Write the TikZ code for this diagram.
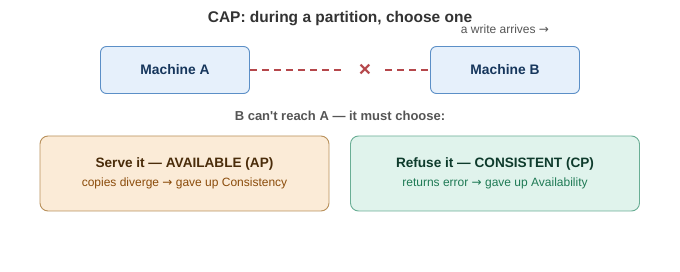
\documentclass[tikz,border=0pt]{standalone}
\usepackage{fontspec}
\setmainfont{Liberation Sans}
\newfontfamily\arrowfont{DejaVu Sans}
\newcommand{\rarr}{{\arrowfont\mdseries →}}
\usepackage{xcolor}
\usetikzlibrary{positioning}
\definecolor{machfill}{HTML}{E6F0FB}
\definecolor{machline}{HTML}{5B8FC7}
\definecolor{machtext}{HTML}{16365C}
\definecolor{apfill}{HTML}{FBEBD7}
\definecolor{apline}{HTML}{B8905A}
\definecolor{aptext}{HTML}{4A2C0A}
\definecolor{apsub}{HTML}{8A4B0A}
\definecolor{cpfill}{HTML}{E0F3EC}
\definecolor{cpline}{HTML}{6AAE95}
\definecolor{cptext}{HTML}{0E3B2C}
\definecolor{cpsub}{HTML}{1F7A55}
\definecolor{cutred}{HTML}{B5474B}
\definecolor{grey}{HTML}{555555}
\tikzset{
  machine/.style = {draw=machline, fill=machfill, rounded corners=6pt,
    minimum width=149pt, minimum height=47pt, line width=0.9pt,
    text=machtext, font=\fontsize{13.8}{15}\selectfont\bfseries},
  choice/.style = {rounded corners=8pt, minimum width=289pt,
    minimum height=75pt, line width=0.9pt, align=center},
  partition/.style = {draw=cutred, dashed, dash pattern=on 7pt off 5pt, line width=1.1pt}
}

\begin{document}
\begin{tikzpicture}[x=1pt,y=-1pt]
  \useasboundingbox (0,0) rectangle (680,272);

  \node[text=black!80, font=\fontsize{15.5}{17}\selectfont\bfseries] (title) at (340,19)
    {CAP: during a partition, choose one};
  \node[text=grey, font=\fontsize{12}{13}\selectfont] (write) at (505,29)
    {a write arrives \rarr};

  \node[machine] (ma) at (175,70) {Machine A};
  \node[machine] (mb) at (505,70) {Machine B};

  \node[text=cutred, minimum width=40pt, inner sep=0pt,
    font=\fontsize{21}{21}\selectfont\bfseries] (cut) at (365,70) {×};
  \draw[partition] (ma.east) -- (cut.west);
  \draw[partition] (cut.east) -- (mb.west);

  \node[text=grey, font=\fontsize{13}{14}\selectfont\bfseries] (reach) at (340,116)
    {B can\textquotesingle t reach A — it must choose:};

  % the two ways out
  \node[choice, draw=apline, fill=apfill] (ap) at (184.5,173.5)
    {{\color{aptext}\fontsize{13.6}{15}\selectfont\bfseries Serve it — AVAILABLE (AP)}\\[7pt]
     {\color{apsub}\fontsize{12}{13}\selectfont copies diverge \rarr\ gave up Consistency}};
  \node[choice, draw=cpline, fill=cpfill] (cp) at (495,173.5)
    {{\color{cptext}\fontsize{13.6}{15}\selectfont\bfseries Refuse it — CONSISTENT (CP)}\\[7pt]
     {\color{cpsub}\fontsize{12}{13}\selectfont returns error \rarr\ gave up Availability}};
\end{tikzpicture}
\end{document}
